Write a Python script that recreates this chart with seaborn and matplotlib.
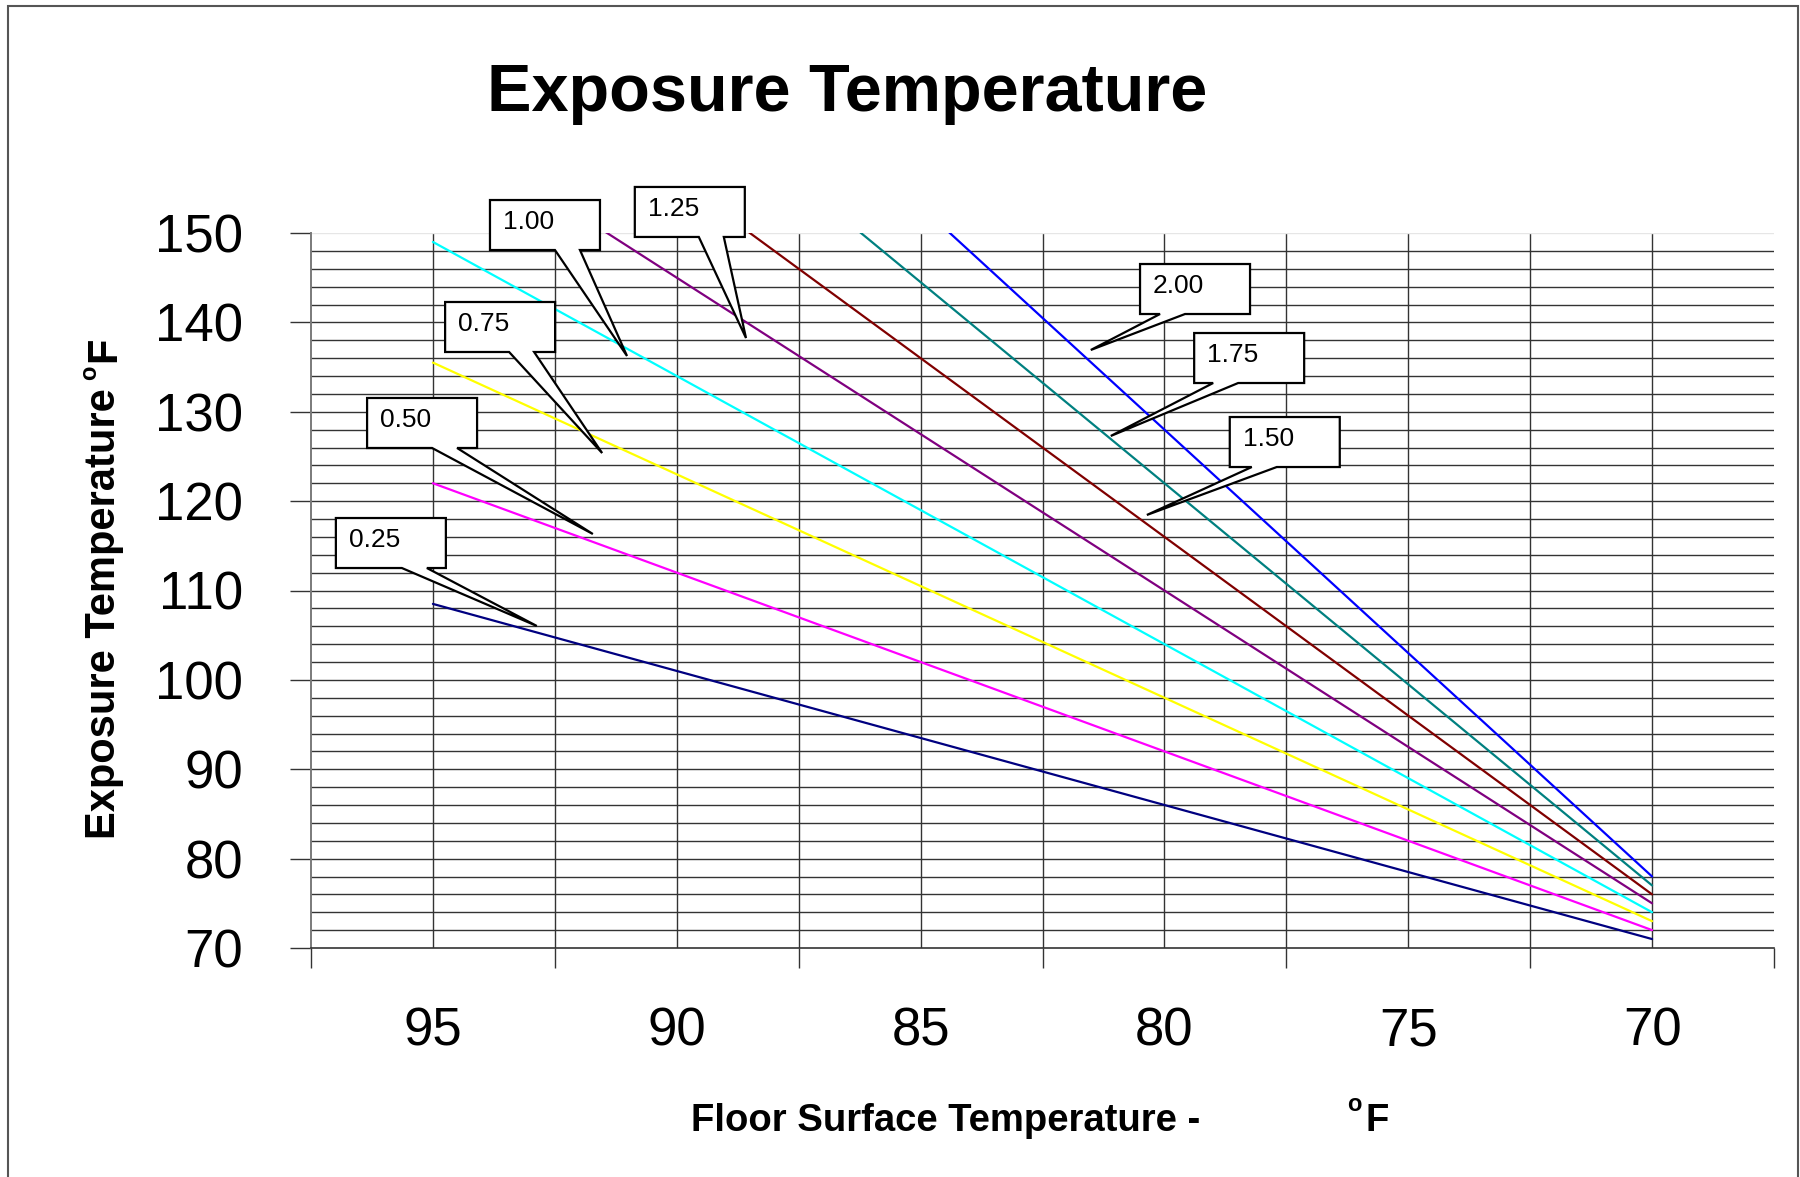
import numpy as np
import pandas as pd
import matplotlib
matplotlib.use('Agg')
import matplotlib.pyplot as plt
import seaborn as sns
from matplotlib.patches import Polygon, Rectangle
from matplotlib.ticker import FixedLocator, MultipleLocator, NullFormatter

# ---------------- data ----------------
floor_temp = [95, 90, 85, 80, 75, 70]
series_names = ['0.25', '0.50', '0.75', '1.00', '1.25', '1.50', '1.75', '2.00']
s025 = [108.5, 101.0, 93.5, 86.0, 78.5, 71.0]
s050 = [122.0, 112.0, 102.0, 92.0, 82.0, 72.0]
s075 = [135.5, 123.0, 110.5, 98.0, 85.5, 73.0]
s100 = [149.0, 134.0, 119.0, 104.0, 89.0, 74.0]
s125 = [162.5, 145.0, 127.5, 110.0, 92.5, 75.0]
s150 = [176.0, 156.0, 136.0, 116.0, 96.0, 76.0]
s175 = [189.5, 167.0, 144.5, 122.0, 99.5, 77.0]
s200 = [203.0, 178.0, 153.0, 128.0, 103.0, 78.0]
series_values = [s025, s050, s075, s100, s125, s150, s175, s200]
colors = ['#000080', '#FF00FF', '#FFFF00', '#00FFFF',
          '#800080', '#800000', '#008080', '#0000FF']
x_tick_labels = [95, 90, 85, 80, 75, 70]
y_tick_labels = [70, 80, 90, 100, 110, 120, 130, 140, 150]

# callout boxes: top-left corner of box (data) and pointer tip (data)
callout_box_x = [96.99, 96.35, 94.75, 93.83, 90.86, 78.66, 79.39, 80.50]
callout_box_y = [118.11, 131.54, 142.28, 153.69, 155.15, 129.41, 138.81, 146.53]
callout_tip_x = [92.87, 91.72, 91.53, 91.02, 88.58, 80.36, 81.10, 81.51]
callout_tip_y = [106.03, 116.32, 125.38, 136.24, 138.25, 118.45, 127.29, 136.91]
callout_base_off = [66, 65, 64, 65, 64, 22, 19, 20]   # px from box left

df = pd.DataFrame({
    'floor': floor_temp * len(series_names),
    'exposure': [v for s in series_values for v in s],
    'series': [n for n in series_names for _ in floor_temp],
})

# ---------------- style ----------------
sns.set_style('white')
plt.rcParams['font.family'] = ['Liberation Sans', 'DejaVu Sans']
plt.rcParams['text.color'] = 'black'
plt.rcParams['xtick.color'] = 'black'
plt.rcParams['ytick.color'] = 'black'
plt.rcParams['axes.labelcolor'] = 'black'

W, H = 1800, 1177
fig = plt.figure(figsize=(W / 100, H / 100), dpi=100)
ax = fig.add_axes([311 / W, 1 - 948 / H, (1774 - 311) / W, (948 - 233) / H])

sns.lineplot(data=df, x='floor', y='exposure', hue='series',
             hue_order=series_names, palette=colors, legend=False,
             estimator=None, ax=ax, linewidth=1.6, zorder=3)

ax.set_xlim(97.5, 67.5)
ax.set_ylim(70, 150)
ax.set_xlabel('')
ax.set_ylabel('')

# x axis: labels centred between tick marks
ax.xaxis.set_major_locator(FixedLocator(x_tick_labels))
ax.set_xticklabels([str(v) for v in x_tick_labels])
ax.xaxis.set_minor_locator(FixedLocator(np.arange(67.5, 97.6, 5)))
ax.xaxis.set_minor_formatter(NullFormatter())
ax.tick_params(axis='x', which='major', length=0, pad=42, labelsize=38,
               labelcolor='black')
ax.tick_params(axis='x', which='minor', length=14.5, width=1.0,
               color='#333333', direction='out')

# y axis
ax.yaxis.set_major_locator(FixedLocator(y_tick_labels))
ax.set_yticklabels([str(v) for v in y_tick_labels])
ax.yaxis.set_minor_locator(MultipleLocator(2))
ax.tick_params(axis='y', which='major', length=15, width=1.0,
               color='#333333', direction='out', pad=34, labelsize=38,
               labelcolor='black')
ax.tick_params(axis='y', which='minor', length=0)
ax.tick_params(left=True, bottom=True, which='both')

# gridlines
grid_c = '#333333'
for xv in np.arange(70, 95.1, 2.5):
    ax.axvline(xv, color=grid_c, lw=1.0, zorder=1)
for yv in np.arange(72, 149, 2):
    ax.axhline(yv, color=grid_c, lw=1.0, zorder=1)
ax.axhline(150, color='#e6e6e6', lw=1.0, zorder=1)

for side in ['top', 'right']:
    ax.spines[side].set_visible(False)
ax.spines['left'].set_color('#7a7a7a')
ax.spines['left'].set_linewidth(1.4)
ax.spines['bottom'].set_color('#333333')
ax.spines['bottom'].set_linewidth(1.2)

# ---------------- callouts ----------------
BW, BH, WEDGE = 110, 50, 25
inv = ax.transData.inverted()
for i, name in enumerate(series_names):
    bx, by = ax.transData.transform((callout_box_x[i], callout_box_y[i]))
    tx, ty = ax.transData.transform((callout_tip_x[i], callout_tip_y[i]))
    b0 = callout_base_off[i]
    pts = [(bx, by), (bx + BW, by), (bx + BW, by - BH),
           (bx + b0 + WEDGE, by - BH), (tx, ty), (bx + b0, by - BH),
           (bx, by - BH)]
    poly = Polygon(inv.transform(pts), closed=True, facecolor='white',
                   edgecolor='black', lw=1.6, zorder=6, clip_on=False,
                   joinstyle='miter')
    ax.add_patch(poly)
    lx, ly = inv.transform((bx + 13, by - 29))
    ax.text(lx, ly, name, fontsize=19, ha='left', va='baseline',
            zorder=7, clip_on=False)

# ---------------- titles ----------------
fig.text(487 / W, 1 - 111 / H, 'Exposure Temperature', fontsize=48,
         fontweight='bold', ha='left', va='baseline')

# y axis title: "Exposure Temperature  °F" (rotated)
fig.text(115 / W, 1 - 839 / H, 'Exposure Temperature', fontsize=30,
         fontweight='bold', rotation=90, rotation_mode='anchor',
         ha='left', va='baseline')
fig.text(96 / W, 1 - 380 / H, 'o', fontsize=17, fontweight='bold',
         rotation=90, rotation_mode='anchor', ha='left', va='baseline')
fig.text(115 / W, 1 - 362 / H, 'F', fontsize=30, fontweight='bold',
         rotation=90, rotation_mode='anchor', ha='left', va='baseline')

# x axis title
fig.text(691 / W, 1 - 1131 / H, 'Floor Surface Temperature -', fontsize=27.5,
         fontweight='bold', ha='left', va='baseline')
fig.text(1347 / W, 1 - 1111 / H, 'o', fontsize=17, fontweight='bold',
         ha='left', va='baseline')
fig.text(1366 / W, 1 - 1131 / H, 'F', fontsize=27.5, fontweight='bold',
         ha='left', va='baseline')

# outer chart border
fig.add_artist(Rectangle((8 / W, -0.02), (1798 - 8) / W, 1 - 6 / H + 0.02,
                         transform=fig.transFigure, fill=False,
                         edgecolor='#555555', lw=1.5))

fig.savefig('out.png', dpi=100)
